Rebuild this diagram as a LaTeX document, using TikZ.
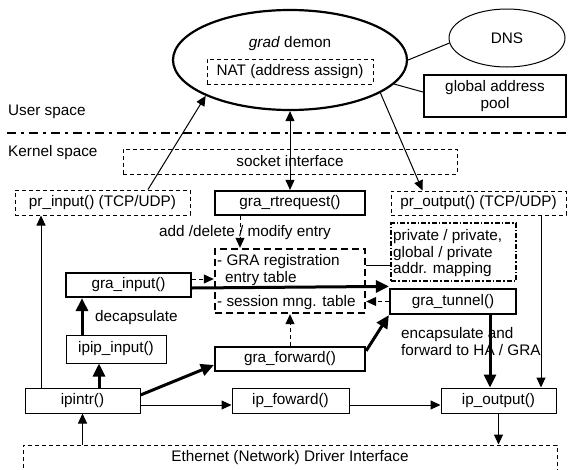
\documentclass[tikz,border=0pt]{standalone}
\usepackage{fontspec}
\setmainfont{Liberation Sans}
\usetikzlibrary{arrows.meta,shapes.geometric}
\begin{document}
\begin{tikzpicture}[x=1pt,y=-1pt,
  every node/.style={font=\fontsize{15.3pt}{17pt}\selectfont, inner sep=0pt},
  txt/.style={anchor=base west},
  thinbox/.style={draw, line width=1pt, rectangle},
  thickbox/.style={draw, line width=2.2pt, rectangle},
  dashbox/.style={draw, line width=1pt, dash pattern=on 4pt off 3pt, rectangle},
  tablebox/.style={draw, line width=2.4pt, dash pattern=on 7pt off 4pt, rectangle},
  mapbox/.style={draw, line width=1.5pt, dash pattern=on 5pt off 2pt on 1.5pt off 2pt, rectangle},
  thinline/.style={line width=1pt},
  thinarrow/.style={line width=1pt, -{Triangle[length=10pt,width=9pt]}},
  dasharrow/.style={line width=1pt, dash pattern=on 4pt off 3pt, -{Triangle[length=10pt,width=9pt]}},
  thickarrow/.style={line width=3pt, -{Triangle[length=13pt,width=12pt]}},
]
\useasboundingbox (0,0) rectangle (568,469);

% user space: daemon, DNS and address pool
\node[draw, ellipse, line width=2.2pt, minimum width=234pt, minimum height=100pt] (demon) at (290,60) {};
\node (demontitle) at (290,44) {\textit{grad} demon};
\node[dashbox, minimum width=166pt, minimum height=25pt] (nat) at (290,71.5) {NAT (address assign)};
\node[draw, ellipse, line width=1pt, minimum width=116pt, minimum height=58pt] (dns) at (507,38) {DNS};
\node[thickbox, minimum width=142pt, minimum height=42pt, align=center] (pool) at (495,96) {global address\\pool};
\draw[thinline] (demon.east) -- (dns.185);
\draw[thinline] (demon.347) -- ([yshift=4pt]pool.west);

% user / kernel boundary
\node[txt] (user) at (8,115.5) {User space};
\coordinate (sepL) at (7,133);
\coordinate (sepR) at (568,133);
\draw[line width=2.6pt, dash pattern=on 9pt off 5pt on 3pt off 5pt] (sepL) -- (sepR);
\node[txt] (kernel) at (8,156.5) {Kernel space};

% kernel space blocks
\node[dashbox, minimum width=334pt, minimum height=25pt] (socket) at (290,161.5) {socket interface};
\node[dashbox, minimum width=175pt, minimum height=25pt] (prin) at (102.5,202.5) {pr\_input() (TCP/UDP)};
\node[thickbox, minimum width=150pt, minimum height=24pt] (rtreq) at (290,203) {gra\_rtrequest()};
\node[dashbox, minimum width=175pt, minimum height=24pt] (prout) at (478.5,203) {pr\_output() (TCP/UDP)};

\node[tablebox, minimum width=150pt, minimum height=64pt] (table) at (290,281) {};
\node[txt] (tab1) at (217,265.5) {- GRA registration};
\node[txt] (tab2) at (225,282) {entry table};
\node[txt] (tab3) at (217,306) {- session mng. table};

\node[mapbox, minimum width=125pt, minimum height=58pt] (map) at (453.5,252) {};
\node[txt] (map1) at (393,240.5) {private / private,};
\node[txt] (map2) at (393,257) {global / private};
\node[txt] (map3) at (393,273.5) {addr. mapping};

\node[thickbox, minimum width=125pt, minimum height=24pt] (grainput) at (128.5,285) {gra\_input()};
\node[thickbox, minimum width=126pt, minimum height=25pt] (tunnel) at (453,301.5) {gra\_tunnel()};
\node[thinbox, minimum width=100pt, minimum height=28pt] (ipip) at (116,349) {ipip\_input()};
\node[thickbox, minimum width=150pt, minimum height=24pt] (gfwd) at (290,359) {gra\_forward()};
\node[thinbox, minimum width=115pt, minimum height=25pt] (ipintr) at (82.5,400.5) {ipintr()};
\node[thinbox, minimum width=117pt, minimum height=25pt] (ipfwd) at (290.5,400.5) {ip\_foward()};
\node[thinbox, minimum width=115pt, minimum height=25pt] (ipout) at (498.5,400.5) {ip\_output()};
\node[dashbox, minimum width=534pt, minimum height=26pt] (eth) at (290,458) {Ethernet (Network) Driver Interface};

% labels on connectors
\node (entrylbl) at (245,233) {add /delete / modify entry};
\node[txt] (decap) at (95,321) {decapsulate};
\node[txt] (encap1) at (401,338) {encapsulate and};
\node[txt] (encap2) at (401,355) {forward to HA / GRA};

% connectors between user and kernel space
\draw[line width=1pt, {Triangle[length=10pt,width=9pt]}-{Triangle[length=10pt,width=9pt]}] (demon.south) -- (rtreq.north);
\draw[thinarrow] ([xshift=45.5pt]prin.north) -- (demon.203);
\draw[thinarrow] (demon.340) -- ([xshift=-56pt]prout.north);

% table accesses
\draw[dasharrow] ([xshift=-50pt]rtreq.south) -- ([xshift=-50pt]table.north);
\draw[dasharrow] ([yshift=6pt]grainput.east) -- ([yshift=2pt]table.west);
\draw[dasharrow] (tunnel.west) -- ([yshift=-20.5pt]table.east);
\draw[dasharrow] (gfwd.north) -- (table.south);
\draw[thinline] ([yshift=16pt]table.east) -- ([yshift=-13pt]map.west);

% packet paths
\draw[thickarrow] ([yshift=-3pt]grainput.east) -- ([yshift=1.5pt]tunnel.north west);
\draw[thickarrow] ([yshift=-5pt]gfwd.north east) -- (tunnel.south west);
\draw[thickarrow] ([xshift=37pt]tunnel.south) -- ([xshift=-8.5pt]ipout.north);
\draw[thinarrow] ([xshift=62.5pt]prout.south) -- ([xshift=42.5pt]ipout.north);
\draw[thinarrow] (ipout.south) -- (ipout.south |- eth.north);
\draw[thinarrow] (ipintr.south |- eth.north) -- (ipintr.south);
\draw[thinarrow] ([xshift=-41.5pt]ipintr.north) -- ([xshift=-61.5pt]prin.south);
\draw[thickarrow] ([xshift=16.5pt]ipintr.north) -- ([xshift=-17pt]ipip.south);
\draw[thickarrow] ([xshift=-34pt]ipip.north) -- ([xshift=-46.5pt]grainput.south);
\draw[thickarrow] ([yshift=5.5pt]ipintr.east) -- ([yshift=-6pt]gfwd.west);
\draw[thinarrow] ([yshift=-4.5pt]ipintr.east) -- ([yshift=-4.5pt]ipfwd.west);
\draw[thinarrow] ([yshift=-4.5pt]ipfwd.east) -- ([yshift=-4.5pt]ipout.west);
\end{tikzpicture}
\end{document}
